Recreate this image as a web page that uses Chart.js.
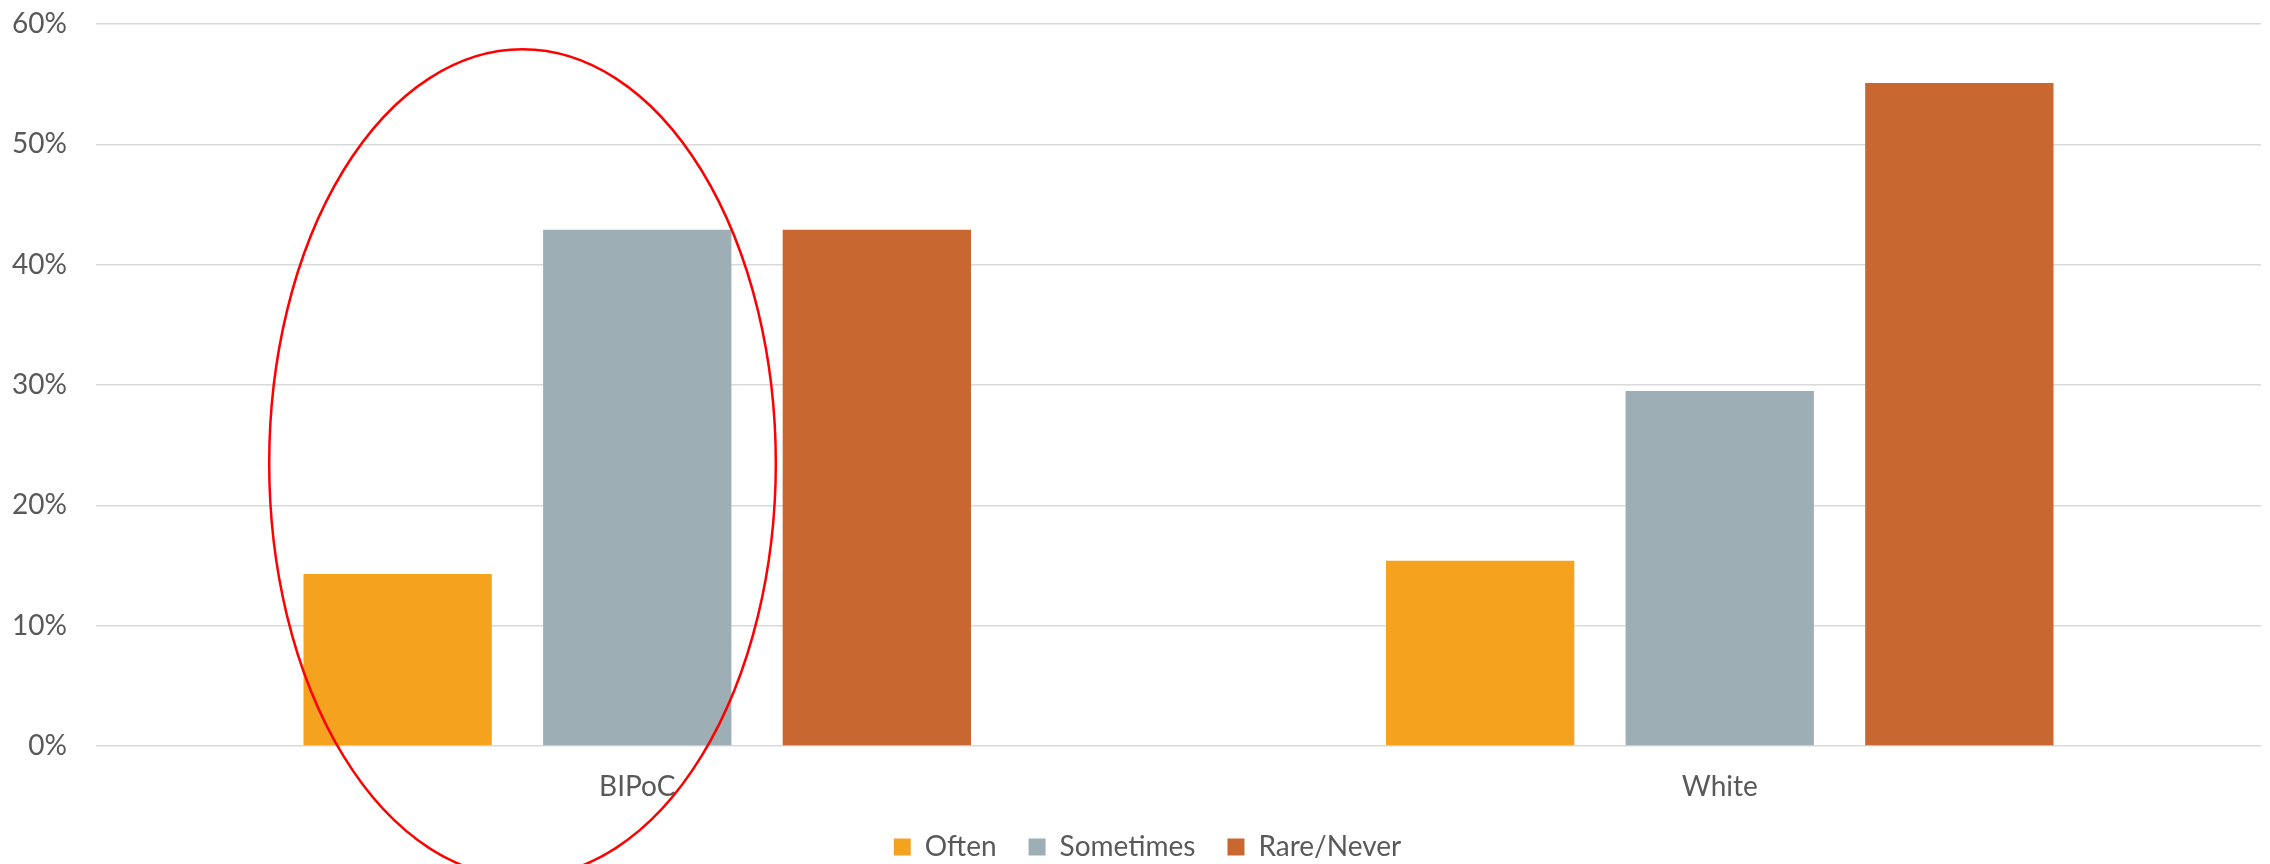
<!DOCTYPE html>
<html>
<head>
<meta charset="utf-8">
<script src="https://cdn.jsdelivr.net/npm/chart.js@4"></script>
<style>
  html, body { margin: 0; padding: 0; background: #ffffff; }
  #wrap { width: 2270px; height: 864px; }
</style>
</head>
<body>
<div id="wrap"><canvas id="chart" width="2270" height="864"></canvas></div>
<script>
// Data
const groups = ['BIPoC', 'White'];
const seriesNames = ['Often', 'Sometimes', 'Rare/Never'];
const oftenValues = [14.3, 15.4];
const sometimesValues = [42.9, 29.5];
const rareNeverValues = [42.9, 55.1];
const yTicks = [0, 10, 20, 30, 40, 50, 60];

const seriesColors = ['#F5A31F', '#9DAFB4', '#C8672F'];
const textColor = '#595959';
const fontFamily = 'Lato, "Open Sans", sans-serif';

// Red ellipse highlighting the BIPoC group, placed in data units
const highlight = { category: 0, dx: -0.106, yCenter: 23.5, rx: 0.234, ry: 34.4 };

const ellipsePlugin = {
    id: 'highlightEllipse',
    afterDatasetsDraw(chart) {
        const x = chart.scales.x;
        const y = chart.scales.y;
        const catWidth = x.getPixelForValue(1) - x.getPixelForValue(0);
        const cx = x.getPixelForValue(highlight.category) + highlight.dx * catWidth;
        const cy = y.getPixelForValue(highlight.yCenter);
        const rx = highlight.rx * catWidth;
        const ry = Math.abs(y.getPixelForValue(highlight.yCenter + highlight.ry) - cy);
        const ctx = chart.ctx;
        ctx.save();
        ctx.beginPath();
        ctx.ellipse(cx, cy, rx, ry, 0, 0, Math.PI * 2);
        ctx.strokeStyle = '#FF0000';
        ctx.lineWidth = 2.5;
        ctx.stroke();
        ctx.restore();
    }
};

// Legend in the reference sits a bit right of the canvas centre
const legendShift = {
    id: 'legendShift',
    afterLayout(chart) {
        chart.legend.left += 17;
        chart.legend.right += 17;
    }
};

const ctx = document.getElementById('chart').getContext('2d');
const chart = new Chart(ctx, {
    type: 'bar',
    data: {
        labels: groups,
        datasets: [
            { label: seriesNames[0], data: oftenValues, backgroundColor: seriesColors[0] },
            { label: seriesNames[1], data: sometimesValues, backgroundColor: seriesColors[1] },
            { label: seriesNames[2], data: rareNeverValues, backgroundColor: seriesColors[2] }
        ]
    },
    options: {
        responsive: false,
        animation: false,
        categoryPercentage: 0.664,
        barPercentage: 0.786,
        layout: { padding: { top: 24, right: 9, left: 0, bottom: -7 } },
        plugins: {
            legend: {
                position: 'bottom',
                labels: {
                    color: textColor,
                    font: { family: fontFamily, size: 28 },
                    boxWidth: 17,
                    boxHeight: 17,
                    padding: 32
                }
            },
            tooltip: { enabled: false }
        },
        scales: {
            x: {
                clip: false,
                grid: { display: false },
                border: { display: false },
                ticks: {
                    color: textColor,
                    font: { family: fontFamily, size: 28 },
                    padding: 16
                },
                afterFit(axis) { axis.height = 55; }
            },
            y: {
                clip: false,
                min: 0,
                max: 60,
                afterBuildTicks(axis) { axis.ticks = yTicks.map(v => ({ value: v })); },
                grid: { color: '#D9D9D9', lineWidth: 1.5, drawTicks: false },
                border: { display: false },
                ticks: {
                    color: textColor,
                    font: { family: fontFamily, size: 28 },
                    padding: 29,
                    callback: v => v + '%'
                },
                afterFit(axis) {
                    axis.width = 96;
                    axis.paddingTop = 0;
                    axis.paddingBottom = 0;
                }
            }
        }
    },
    plugins: [ellipsePlugin, legendShift]
});
</script>
</body>
</html>
